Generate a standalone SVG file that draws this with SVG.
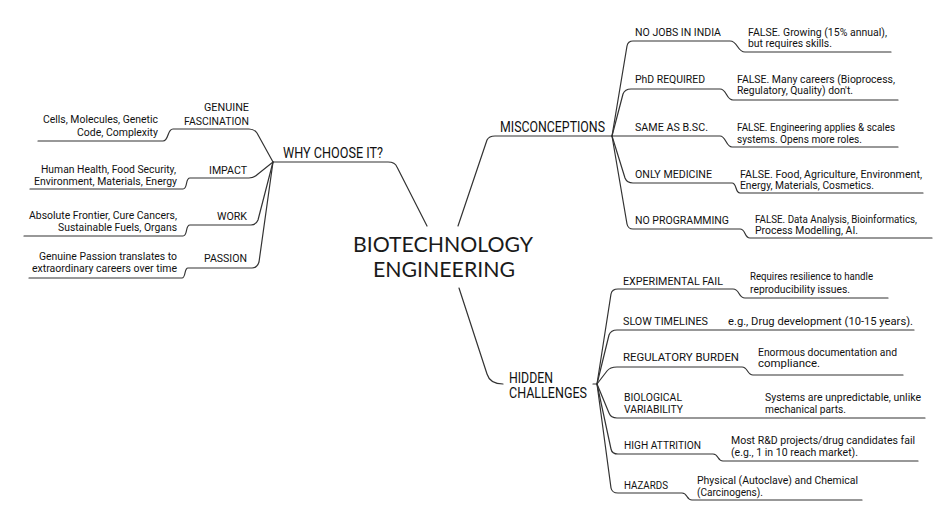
<svg xmlns="http://www.w3.org/2000/svg" width="940" height="513" viewBox="0 0 940 513">
<style>
.bg{fill:#fff}
.c{fill:none;stroke:#333;stroke-width:1.2;stroke-linecap:round;stroke-linejoin:round}
text{font-family:Roboto,"Liberation Sans",sans-serif;fill:#111;font-size:11.5px}
.l1{font-size:14px}
.root{font-family:Lato,"Noto Sans",sans-serif;font-size:21px;fill:#1a1a1a}
</style>
<rect class="bg" width="940" height="513"/>
<g id="connectors" class="c">
<path d="M427,226 L397,167 Q395,162 388,162 L273,162"/>
<path d="M273,162 L257,133 Q254,129 249,129 L173,129 C167,129 169,141 163,141 L38,141"/>
<path d="M273,162 L258,174 Q254,178 249,178 L190,178 C185,178 188,189 183,189 L30,189"/>
<path d="M273,162 L258,220 Q256,225 251,225 L190,225 C185,225 188,236 183,236 L24,236"/>
<path d="M273,162 L259,262 Q257,268 252,268 L188,268 C184,268 186,278 182,278 L29,278"/>
<path d="M458,226 L487,140 Q489,136 495,136 L612,136"/>
<path d="M612,136 L627,46 Q628,41 633,41 L730,41 C738,41 737,52 745,52 L891,52"/>
<path d="M612,136 L623,94 Q625,89 631,89 L720,89 C727,89 726,100 733,100 L898,100"/>
<path d="M612,136 L720,136 C726,136 726,147 732,147 L898,147"/>
<path d="M612,136 L625,178 Q627,183 633,183 L732,183 C737,183 735,193 740,193 L923,193"/>
<path d="M612,136 L627,224 Q628,229 633,229 L740,229 C746,229 744,238 750,238 L932,238"/>
<path d="M459,288 L487,374 Q490,384 503,384"/>
<path d="M593,384 L597,384"/>
<path d="M597,384 L611,294 Q612,289 618,289 L733,289 C740,289 738,298 745,298 L888,298"/>
<path d="M597,384 L609,335 Q611,330 617,330 L914,330"/>
<path d="M597,384 L607,371 Q610,367 617,367 L742,367 C748,367 747,375 753,375 L903,375"/>
<path d="M597,384 L609,413 Q611,418 617,418 L925,418"/>
<path d="M597,384 L611,449 Q612,454 618,454 L713,454 C719,454 717,461 723,461 L918,461"/>
<path d="M597,384 L611,488 Q612,493 618,493 L682,493 C688,493 686,500 692,500 L862,500"/>
</g>
<g id="root">
<text class="root" x="353" y="252" textLength="180" lengthAdjust="spacingAndGlyphs">BIOTECHNOLOGY</text>
<text class="root" x="373" y="277" textLength="142" lengthAdjust="spacingAndGlyphs">ENGINEERING</text>
</g>
<g id="why">
<text class="l1" x="283" y="158" textLength="100" lengthAdjust="spacingAndGlyphs">WHY CHOOSE IT?</text>
</g>
<g id="why-fascination">
<text x="204" y="111" textLength="45" lengthAdjust="spacingAndGlyphs">GENUINE</text>
<text x="184" y="125" textLength="65" lengthAdjust="spacingAndGlyphs">FASCINATION</text>
</g>
<g id="why-fascination-leaf">
<text x="43" y="123" textLength="115" lengthAdjust="spacingAndGlyphs">Cells, Molecules, Genetic</text>
<text x="77" y="136" textLength="81" lengthAdjust="spacingAndGlyphs">Code, Complexity</text>
</g>
<g id="why-impact">
<text x="209" y="174" textLength="38" lengthAdjust="spacingAndGlyphs">IMPACT</text>
</g>
<g id="why-impact-leaf">
<text x="41" y="173" textLength="135" lengthAdjust="spacingAndGlyphs">Human Health, Food Security,</text>
<text x="34" y="185" textLength="143" lengthAdjust="spacingAndGlyphs">Environment, Materials, Energy</text>
</g>
<g id="why-work">
<text x="217" y="220" textLength="30" lengthAdjust="spacingAndGlyphs">WORK</text>
</g>
<g id="why-work-leaf">
<text x="29" y="219" textLength="148" lengthAdjust="spacingAndGlyphs">Absolute Frontier, Cure Cancers,</text>
<text x="58" y="231" textLength="119" lengthAdjust="spacingAndGlyphs">Sustainable Fuels, Organs</text>
</g>
<g id="why-passion">
<text x="204" y="262" textLength="43" lengthAdjust="spacingAndGlyphs">PASSION</text>
</g>
<g id="why-passion-leaf">
<text x="39" y="260" textLength="138" lengthAdjust="spacingAndGlyphs">Genuine Passion translates to</text>
<text x="32" y="272" textLength="145" lengthAdjust="spacingAndGlyphs">extraordinary careers over time</text>
</g>
<g id="misc">
<text class="l1" x="500" y="132" textLength="105" lengthAdjust="spacingAndGlyphs">MISCONCEPTIONS</text>
</g>
<g id="misc-jobs">
<text x="635" y="36" textLength="86" lengthAdjust="spacingAndGlyphs">NO JOBS IN INDIA</text>
</g>
<g id="misc-jobs-leaf">
<text x="748" y="36" textLength="139" lengthAdjust="spacingAndGlyphs">FALSE. Growing (15% annual),</text>
<text x="748" y="47" textLength="84" lengthAdjust="spacingAndGlyphs">but requires skills.</text>
</g>
<g id="misc-phd">
<text x="635" y="83" textLength="70" lengthAdjust="spacingAndGlyphs">PhD REQUIRED</text>
</g>
<g id="misc-phd-leaf">
<text x="737" y="83" textLength="158" lengthAdjust="spacingAndGlyphs">FALSE. Many careers (Bioprocess,</text>
<text x="737" y="94" textLength="116" lengthAdjust="spacingAndGlyphs">Regulatory, Quality) don't.</text>
</g>
<g id="misc-bsc">
<text x="635" y="131" textLength="73" lengthAdjust="spacingAndGlyphs">SAME AS B.SC.</text>
</g>
<g id="misc-bsc-leaf">
<text x="737" y="131" textLength="158" lengthAdjust="spacingAndGlyphs">FALSE. Engineering applies &amp; scales</text>
<text x="737" y="143" textLength="125" lengthAdjust="spacingAndGlyphs">systems. Opens more roles.</text>
</g>
<g id="misc-med">
<text x="635" y="178" textLength="77" lengthAdjust="spacingAndGlyphs">ONLY MEDICINE</text>
</g>
<g id="misc-med-leaf">
<text x="740" y="178" textLength="182" lengthAdjust="spacingAndGlyphs">FALSE. Food, Agriculture, Environment,</text>
<text x="740" y="189" textLength="134" lengthAdjust="spacingAndGlyphs">Energy, Materials, Cosmetics.</text>
</g>
<g id="misc-prog">
<text x="635" y="224" textLength="94" lengthAdjust="spacingAndGlyphs">NO PROGRAMMING</text>
</g>
<g id="misc-prog-leaf">
<text x="755" y="223" textLength="162" lengthAdjust="spacingAndGlyphs">FALSE. Data Analysis, Bioinformatics,</text>
<text x="755" y="234" textLength="103" lengthAdjust="spacingAndGlyphs">Process Modelling, AI.</text>
</g>
<g id="hidden">
<text class="l1" x="509" y="383" textLength="44" lengthAdjust="spacingAndGlyphs">HIDDEN</text>
<text class="l1" x="509" y="398" textLength="78" lengthAdjust="spacingAndGlyphs">CHALLENGES</text>
</g>
<g id="hid-exp">
<text x="623" y="285" textLength="100" lengthAdjust="spacingAndGlyphs">EXPERIMENTAL FAIL</text>
</g>
<g id="hid-exp-leaf">
<text x="750" y="280" textLength="123" lengthAdjust="spacingAndGlyphs">Requires resilience to handle</text>
<text x="750" y="293" textLength="100" lengthAdjust="spacingAndGlyphs">reproducibility issues.</text>
</g>
<g id="hid-slow">
<text x="623" y="325" textLength="85" lengthAdjust="spacingAndGlyphs">SLOW TIMELINES</text>
</g>
<g id="hid-slow-leaf">
<text x="728" y="325" textLength="185" lengthAdjust="spacingAndGlyphs">e.g., Drug development (10-15 years).</text>
</g>
<g id="hid-reg">
<text x="623" y="361" textLength="116" lengthAdjust="spacingAndGlyphs">REGULATORY BURDEN</text>
</g>
<g id="hid-reg-leaf">
<text x="758" y="356" textLength="139" lengthAdjust="spacingAndGlyphs">Enormous documentation and</text>
<text x="758" y="367" textLength="62" lengthAdjust="spacingAndGlyphs">compliance.</text>
</g>
<g id="hid-bio">
<text x="624" y="401" textLength="58" lengthAdjust="spacingAndGlyphs">BIOLOGICAL</text>
<text x="624" y="413" textLength="59" lengthAdjust="spacingAndGlyphs">VARIABILITY</text>
</g>
<g id="hid-bio-leaf">
<text x="765" y="401" textLength="156" lengthAdjust="spacingAndGlyphs">Systems are unpredictable, unlike</text>
<text x="765" y="413" textLength="81" lengthAdjust="spacingAndGlyphs">mechanical parts.</text>
</g>
<g id="hid-attr">
<text x="624" y="449" textLength="77" lengthAdjust="spacingAndGlyphs">HIGH ATTRITION</text>
</g>
<g id="hid-attr-leaf">
<text x="731" y="444" textLength="184" lengthAdjust="spacingAndGlyphs">Most R&amp;D projects/drug candidates fail</text>
<text x="731" y="456" textLength="127" lengthAdjust="spacingAndGlyphs">(e.g., 1 in 10 reach market).</text>
</g>
<g id="hid-haz">
<text x="624" y="489" textLength="44" lengthAdjust="spacingAndGlyphs">HAZARDS</text>
</g>
<g id="hid-haz-leaf">
<text x="697" y="484" textLength="161" lengthAdjust="spacingAndGlyphs">Physical (Autoclave) and Chemical</text>
<text x="697" y="496" textLength="66" lengthAdjust="spacingAndGlyphs">(Carcinogens).</text>
</g>
</svg>
